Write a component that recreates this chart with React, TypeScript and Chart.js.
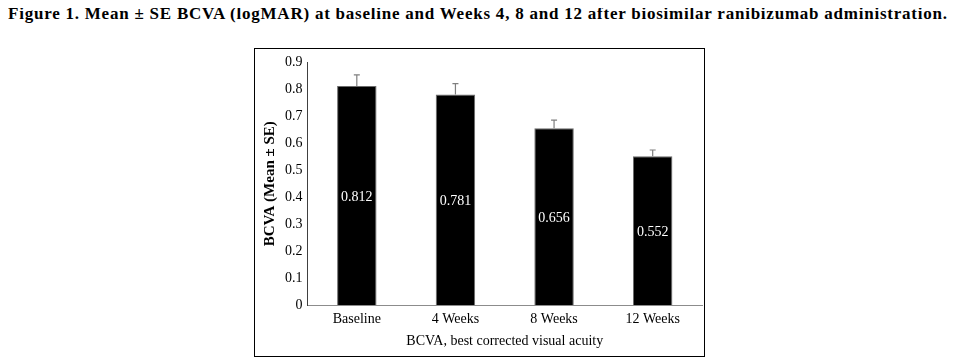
import React, { useEffect, useRef } from "react";
import { Chart, registerables } from "chart.js";

Chart.register(...registerables);

const categories = ["Baseline", "4 Weeks", "8 Weeks", "12 Weeks"];
const meanValues = [0.812, 0.781, 0.656, 0.552];
const seValues = [0.042, 0.04, 0.03, 0.023];
const yTicks = [0, 0.1, 0.2, 0.3, 0.4, 0.5, 0.6, 0.7, 0.8, 0.9];

const titleText =
  "Figure 1. Mean \u00b1 SE BCVA (logMAR) at baseline and Weeks 4, 8 and 12 after biosimilar ranibizumab administration.";
const yTitle = "BCVA (Mean \u00b1 SE)";
const xTitle = "BCVA, best corrected visual acuity";

const SERIF = "'Liberation Serif', 'Times New Roman', serif";

const errorBarPlugin = {
  id: "errorBars",
  afterDatasetsDraw(chart: any) {
    const { ctx } = chart;
    const meta = chart.getDatasetMeta(0);
    const y = chart.scales.y;
    ctx.save();
    ctx.strokeStyle = "#7f7f7f";
    ctx.lineWidth = 1.2;
    meta.data.forEach((bar: any, i: number) => {
      const x = bar.x;
      const yTop = y.getPixelForValue(meanValues[i] + seValues[i]);
      const yBase = y.getPixelForValue(meanValues[i]);
      ctx.beginPath();
      ctx.moveTo(x, yBase);
      ctx.lineTo(x, yTop);
      ctx.moveTo(x - 3, yTop);
      ctx.lineTo(x + 3, yTop);
      ctx.stroke();
    });
    ctx.restore();
  },
};

const valueLabelPlugin = {
  id: "valueLabels",
  afterDatasetsDraw(chart: any) {
    const { ctx } = chart;
    const meta = chart.getDatasetMeta(0);
    ctx.save();
    ctx.fillStyle = "#ffffff";
    ctx.font = `14px ${SERIF}`;
    ctx.textAlign = "center";
    ctx.textBaseline = "middle";
    meta.data.forEach((bar: any, i: number) => {
      const cy = (bar.y + bar.base) / 2;
      ctx.fillText(meanValues[i].toFixed(3), bar.x, cy + 1.5);
    });
    ctx.restore();
  },
};

function BarChart() {
  const ref = useRef<HTMLCanvasElement | null>(null);
  useEffect(() => {
    if (!ref.current) return;
    const chart = new Chart(ref.current, {
      type: "bar",
      data: {
        labels: categories,
        datasets: [
          {
            data: meanValues,
            backgroundColor: "#000000",
            borderColor: "#6b6b6b",
            borderWidth: 1,
            barPercentage: 0.4,
            categoryPercentage: 1,
          },
        ],
      },
      options: {
        responsive: false,
        animation: false,
        layout: { padding: { top: 11, right: 2, bottom: 0, left: 0 } },
        plugins: {
          legend: { display: false },
          tooltip: { enabled: false },
          title: { display: false },
        },
        scales: {
          x: {
            grid: { display: false, drawTicks: false },
            border: { display: true, color: "#8c8c8c", width: 1 },
            ticks: {
              color: "#000000",
              font: { family: SERIF, size: 14 },
              padding: 6,
              maxRotation: 0,
            },
            title: {
              display: true,
              text: xTitle,
              color: "#000000",
              font: { family: SERIF, size: 14 },
              padding: { top: 0, bottom: 6 },
            },
            afterFit(axis: any) {
              axis.height = 51;
            },
          },
          y: {
            min: 0,
            max: 0.9,
            grid: { display: false, drawTicks: false },
            border: { display: true, color: "#404040", width: 1 },
            afterBuildTicks(axis: any) {
              axis.ticks = yTicks.map((v) => ({ value: v }));
            },
            ticks: {
              color: "#000000",
              font: { family: SERIF, size: 14 },
              padding: 5,
              callback: (v: any) => String(Math.round(Number(v) * 10) / 10),
            },
            title: {
              display: true,
              text: yTitle,
              color: "#000000",
              font: { family: SERIF, size: 15, weight: "bold" },
              padding: { top: 6, bottom: 0 },
            },
            afterFit(axis: any) {
              axis.width = 52.5;
            },
          },
        },
      },
      plugins: [errorBarPlugin, valueLabelPlugin],
    });
    return () => chart.destroy();
  }, []);
  return <canvas ref={ref} width={449} height={307} style={{ display: "block" }} />;
}

export default function App() {
  return (
    <div style={{ position: "relative", width: 942, height: 350 }}>
      <div
        style={{
          position: "absolute",
          left: 0,
          top: -3,
          whiteSpace: "nowrap",
          fontFamily: SERIF,
          fontWeight: "bold",
          fontSize: 17,
          letterSpacing: "0.77px",
          lineHeight: "17px",
          color: "#000",
        }}
      >
        {titleText}
      </div>
      <div
        style={{
          position: "absolute",
          left: 246,
          top: 40,
          width: 451,
          height: 309,
          boxSizing: "border-box",
          border: "1px solid #000",
        }}
      >
        <BarChart />
      </div>
    </div>
  );
}
